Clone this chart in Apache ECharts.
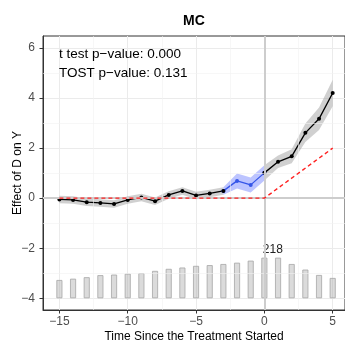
<!DOCTYPE html>
<html>
<head>
<meta charset="utf-8">
<script src="https://cdn.jsdelivr.net/npm/echarts@6/dist/echarts.min.js"></script>
<style>html,body{margin:0;padding:0;background:#fff;}#c{width:345px;height:345px;}</style>
</head>
<body>
<div id="c"></div>
<script>
// ---- data ----
const periods = [-15,-14,-13,-12,-11,-10,-9,-8,-7,-6,-5,-4,-3,-2,-1,0,1,2,3,4,5];
const estimate = [-0.05,-0.07,-0.16,-0.19,-0.23,-0.07,0.03,-0.12,0.13,0.29,0.11,0.19,0.29,0.69,0.53,1.01,1.45,1.67,2.61,3.17,4.20];
const ciLower  = [-0.20,-0.22,-0.31,-0.34,-0.38,-0.22,-0.12,-0.27,-0.02,0.14,-0.04,0.04,0.14,0.39,0.23,0.71,1.20,1.39,2.24,2.72,3.67];
const ciUpper  = [0.10,0.08,-0.01,-0.04,-0.08,0.08,0.18,0.03,0.28,0.44,0.26,0.34,0.44,0.99,0.83,1.31,1.70,1.95,2.98,3.62,4.73];
const counts   = [98,105,113,124,127,132,135,147,158,165,174,178,184,191,202,218,218,184,154,125,109];
const refX = [-15, 0, 5];
const refY = [0, 0, 2];
const xTicks = [-15,-10,-5,0,5];
const yTicks = [-4,-2,0,2,4,6];
const xMinor = [-12.5,-7.5,-2.5,2.5];
const yMinor = [-3,-1,1,3,5];
const titleText = 'MC';
const statLines = ['t test p\u2212value: 0.000', 'TOST p\u2212value: 0.131'];
const xName = 'Time Since the Treatment Started';
const yName = 'Effect of D on Y';

// ---- layout ----
const X_MIN = -16.2, X_MAX = 5.9, Y_MIN = -4.47, Y_MAX = 6.48;
const BAR_BASE = -4, BAR_TOP = -2.38;
const maxCount = Math.max(...counts);
const k = (BAR_TOP - BAR_BASE) / maxCount;
const cMin = (Y_MIN - BAR_BASE) / k, cMax = (Y_MAX - BAR_BASE) / k;

function pick(arr, a, b) {
  const out = [];
  periods.forEach((p, i) => { if (p >= a && p <= b) out.push([p, arr[i]]); });
  return out;
}
function band(a, b, fill) {
  const lo = pick(ciLower, a, b), hi = pick(ciUpper, a, b);
  return {
    type: 'custom', silent: true, z: 3,
    data: [[a, 0]],
    renderItem: function (params, api) {
      const pts = hi.map(d => api.coord(d)).concat(lo.slice().reverse().map(d => api.coord(d)));
      return { type: 'polygon', shape: { points: pts }, style: { fill: fill } };
    }
  };
}
function line(a, b, color) {
  return {
    type: 'line', z: 4, data: pick(estimate, a, b),
    symbol: 'circle', symbolSize: 4, showSymbol: true,
    lineStyle: { color: color, width: 1.3 }, itemStyle: { color: color },
    silent: true, animation: false
  };
}
const minorStyle = { color: '#f1f1f1', width: 0.6, type: 'solid' };
const chart = echarts.init(document.getElementById('c'), null, { renderer: 'canvas' });
chart.setOption({
  animation: false,
  backgroundColor: '#ffffff',
  grid: { left: 43, right: 0, top: 36, bottom: 35, containLabel: false, outerBoundsMode: 'none',
    show: true, borderColor: '#333', borderWidth: 1, backgroundColor: 'transparent' },
  xAxis: {
    type: 'value', min: X_MIN, max: X_MAX,
    name: xName, nameLocation: 'middle', nameGap: 21, nameMoveOverlap: false,
    nameTextStyle: { color: '#000', fontSize: 12, fontFamily: 'Liberation Sans' },
    axisLine: { show: true, onZero: false, lineStyle: { color: '#333', width: 1 } },
    axisTick: { show: true, length: 3.5, customValues: xTicks, lineStyle: { color: '#333' } },
    axisLabel: { customValues: xTicks, color: '#4d4d4d', fontSize: 12, fontFamily: 'Liberation Sans', margin: 6,
      formatter: v => (v < 0 ? '\u2212' + Math.abs(v) : String(v)) },
    splitLine: { show: true, lineStyle: { color: '#ebebeb', width: 1 } }
  },
  yAxis: [{
    type: 'value', min: Y_MIN, max: Y_MAX,
    name: yName, nameLocation: 'middle', nameGap: 19, nameRotate: 90, nameMoveOverlap: false,
    nameTextStyle: { color: '#000', fontSize: 12, fontFamily: 'Liberation Sans' },
    axisLine: { show: true, onZero: false, lineStyle: { color: '#333', width: 1 } },
    axisTick: { show: true, length: 3.5, customValues: yTicks, lineStyle: { color: '#333' } },
    axisLabel: { customValues: yTicks, color: '#4d4d4d', fontSize: 12, fontFamily: 'Liberation Sans', margin: 8,
      formatter: v => (v < 0 ? '\u2212' + Math.abs(v) : String(v)) },
    splitLine: { show: true, lineStyle: { color: '#ebebeb', width: 1 } }
  }, {
    type: 'value', min: cMin, max: cMax, show: false, splitLine: { show: false }
  }],
  graphic: [
    { type: 'text', x: 194, y: 21, style: { text: titleText, fontSize: 14, fontWeight: 'bold', fontFamily: 'Liberation Sans', fill: '#000', align: 'center', verticalAlign: 'middle' } },
    { type: 'text', x: 59, y: 54, z: 10, style: { text: statLines[0], fontSize: 13.5, fontFamily: 'Liberation Sans', fill: '#000', align: 'left', verticalAlign: 'middle' } },
    { type: 'text', x: 59, y: 73, z: 10, style: { text: statLines[1], fontSize: 13.5, fontFamily: 'Liberation Sans', fill: '#000', align: 'left', verticalAlign: 'middle' } }
  ],
  series: [
    { type: 'line', data: [], z: 1, silent: true,
      markLine: { silent: true, symbol: 'none', label: { show: false }, animation: false,
        lineStyle: minorStyle,
        data: xMinor.map(v => ({ xAxis: v })).concat(yMinor.map(v => ({ yAxis: v }))) } },
    { type: 'line', data: [], z: 1, silent: true,
      markLine: { silent: true, symbol: 'none', label: { show: false }, animation: false,
        lineStyle: { color: '#cdcdcd', width: 2, type: 'solid' },
        data: [{ xAxis: 0 }, { yAxis: 0 }] } },
    { type: 'bar', yAxisIndex: 1, z: 2, barWidth: 6, silent: true,
      data: periods.map((p, i) => {
        const item = { value: [p, counts[i]] };
        if (i === counts.indexOf(maxCount)) {
          item.label = { show: true, position: 'top', distance: 2, offset: [8.5, 0], formatter: String(maxCount),
            color: '#222', fontSize: 12, fontFamily: 'Liberation Sans' };
        }
        return item;
      }),
      itemStyle: { color: 'rgba(166,166,166,0.4)', borderColor: '#a6a6a6', borderWidth: 0.8 } },
    band(-15, -3, 'rgba(150,150,150,0.45)'),
    band(-3, 0, 'rgba(80,100,255,0.38)'),
    band(0, 5, 'rgba(150,150,150,0.45)'),
    { type: 'line', z: 5, data: refX.map((x, i) => [x, refY[i]]), symbol: 'none', silent: true,
      lineStyle: { color: '#ff2020', width: 1.4, type: [4, 3] } },
    line(-3, 0, '#3556e8'),
    line(-15, -3, '#000'),
    line(0, 5, '#000')
  ]
});
</script>
</body>
</html>
